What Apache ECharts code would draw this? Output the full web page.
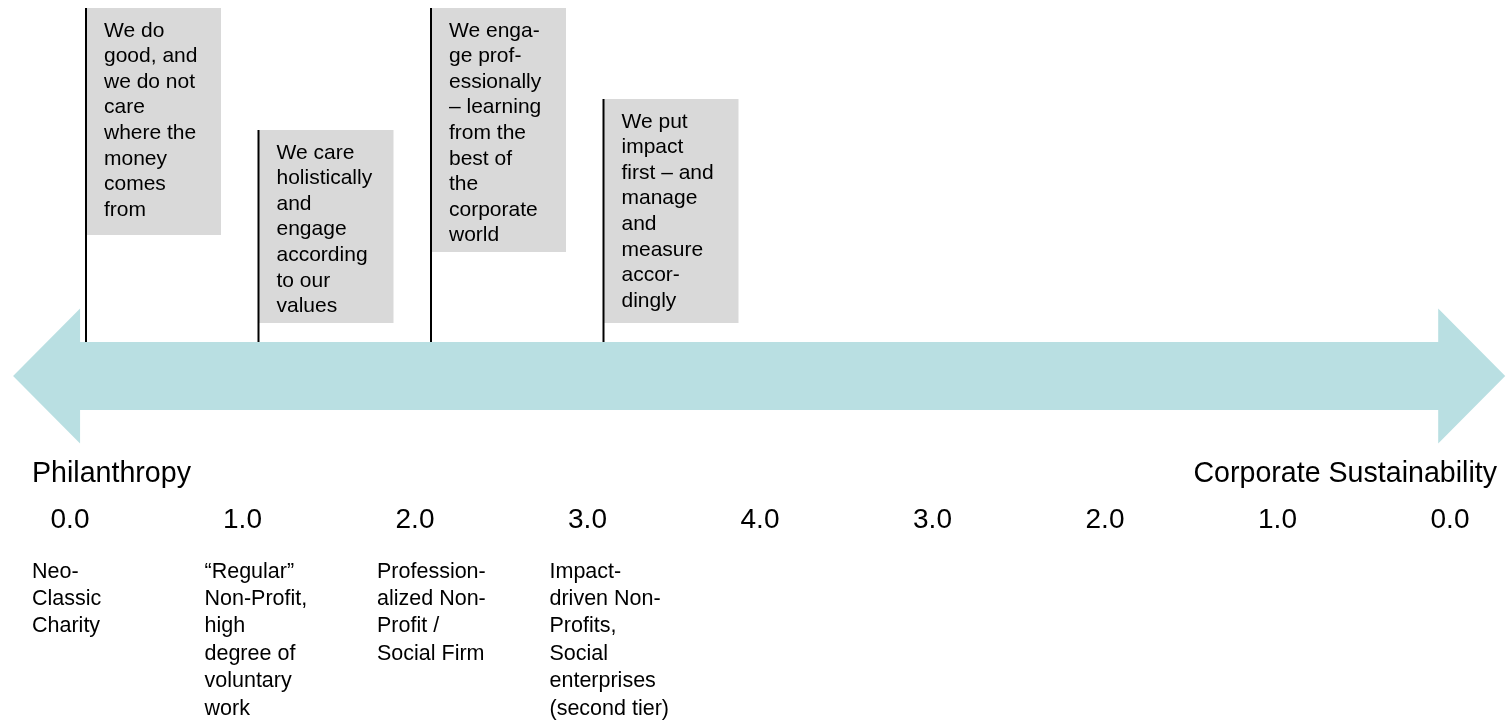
<!DOCTYPE html>
<html>
<head>
<meta charset="utf-8">
<script src="https://cdn.jsdelivr.net/npm/echarts@6/dist/echarts.min.js"></script>
<style>
  html, body { margin: 0; padding: 0; background: #fff; }
  #chart { width: 1508px; height: 722px; }
</style>
</head>
<body>
<div id="chart"></div>
<script>
// stage scale read along the arrow
const stageLabels = ["0.0", "1.0", "2.0", "3.0", "4.0", "3.0", "2.0", "1.0", "0.0"];
const endLabels = ["Philanthropy", "Corporate Sustainability"];

// organisation types under the first four stages
const stageNames = [
  "Neo-\nClassic\nCharity",
  "\u201cRegular\u201d\nNon-Profit,\nhigh\ndegree of\nvoluntary\nwork",
  "Profession-\nalized Non-\nProfit /\nSocial Firm",
  "Impact-\ndriven Non-\nProfits,\nSocial\nenterprises\n(second tier)"
];

// flag boxes above the arrow (top / bottom on the vertical scale)
const flagTexts = [
  "We do\ngood, and\nwe do not\ncare\nwhere the\nmoney\ncomes\nfrom",
  "We care\nholistically\nand\nengage\naccording\nto our\nvalues",
  "We enga-\nge prof-\nessionally\n\u2013 learning\nfrom the\nbest of\nthe\ncorporate\nworld",
  "We put\nimpact\nfirst \u2013 and\nmanage\nand\nmeasure\naccor-\ndingly"
];
const flagTop = [8, 130, 8, 99];
const flagBottom = [235, 323, 252, 323];

// the double arrow, in stage units along x
const arrowEnds = [-0.33, 8.32];
const arrowLevel = 376;

const font = "'Liberation Sans', Arial, sans-serif";
const chart = echarts.init(document.getElementById("chart"));

const option = {
  backgroundColor: "#fff",
  animation: false,
  title: [
    {
      text: endLabels[0], left: 32, top: 460, padding: 0,
      textStyle: { fontSize: 28.6, fontWeight: "normal", fontFamily: font, color: "#000" }
    },
    {
      text: endLabels[1], right: 11, top: 460, padding: 0,
      textStyle: { fontSize: 28.6, fontWeight: "normal", fontFamily: font, color: "#000" }
    }
  ],
  grid: { left: 70, right: 58, top: 0, bottom: 0 },
  xAxis: [
    {
      type: "category",
      data: stageLabels,
      boundaryGap: false,
      offset: -217,
      axisLine: { show: false },
      axisTick: { show: false },
      splitLine: { show: false },
      axisLabel: { interval: 0, margin: 1, fontSize: 28, fontFamily: font, color: "#000" }
    },
    { type: "value", min: 0, max: 8, show: false, position: "top" }
  ],
  yAxis: { type: "value", min: 0, max: 722, inverse: true, show: false },
  series: [
    {
      type: "custom",
      xAxisIndex: 1,
      data: [[arrowEnds[0], arrowEnds[1], arrowLevel]],
      renderItem: function (params, api) {
        const l = api.coord([api.value(0), api.value(2)]);
        const r = api.coord([api.value(1), api.value(2)]);
        const yc = l[1], head = 67, hh = 67.5, sh = 34;
        return {
          type: "polygon",
          shape: {
            points: [
              [l[0], yc], [l[0] + head, yc - hh], [l[0] + head, yc - sh],
              [r[0] - head, yc - sh], [r[0] - head, yc - hh], [r[0], yc],
              [r[0] - head, yc + hh], [r[0] - head, yc + sh],
              [l[0] + head, yc + sh], [l[0] + head, yc + hh]
            ]
          },
          style: { fill: "#b9dfe2" }
        };
      }
    },
    {
      type: "custom",
      xAxisIndex: 1,
      data: flagTexts.map((t, i) => [i, flagTop[i], flagBottom[i]]),
      renderItem: function (params, api) {
        const i = params.dataIndex;
        const top = api.coord([api.value(0), api.value(1)]);
        const bot = api.coord([api.value(0), api.value(2)]);
        const base = api.coord([api.value(0), arrowLevel - 34]);
        const x = top[0] + 16;
        return {
          type: "group",
          children: [
            {
              type: "rect",
              shape: { x: x, y: top[1], width: 135, height: bot[1] - top[1] },
              style: { fill: "#d9d9d9" }
            },
            {
              type: "line",
              shape: { x1: x, y1: top[1], x2: x, y2: base[1] },
              style: { stroke: "#000", lineWidth: 2 }
            },
            {
              type: "text",
              x: x + 18,
              y: top[1] + 10,
              style: {
                text: flagTexts[i], fontSize: 21, fontFamily: font, fill: "#000",
                lineHeight: 25.6, align: "left", verticalAlign: "top"
              }
            }
          ]
        };
      }
    },
    {
      type: "custom",
      xAxisIndex: 1,
      data: stageNames.map((t, i) => [i, 558]),
      renderItem: function (params, api) {
        const p = api.coord([api.value(0), api.value(1)]);
        return {
          type: "text",
          x: p[0] - 38,
          y: p[1],
          style: {
            text: stageNames[params.dataIndex], fontSize: 21.5, fontFamily: font, fill: "#000",
            lineHeight: 27.4, align: "left", verticalAlign: "top"
          }
        };
      }
    }
  ]
};

chart.setOption(option);
</script>
</body>
</html>
